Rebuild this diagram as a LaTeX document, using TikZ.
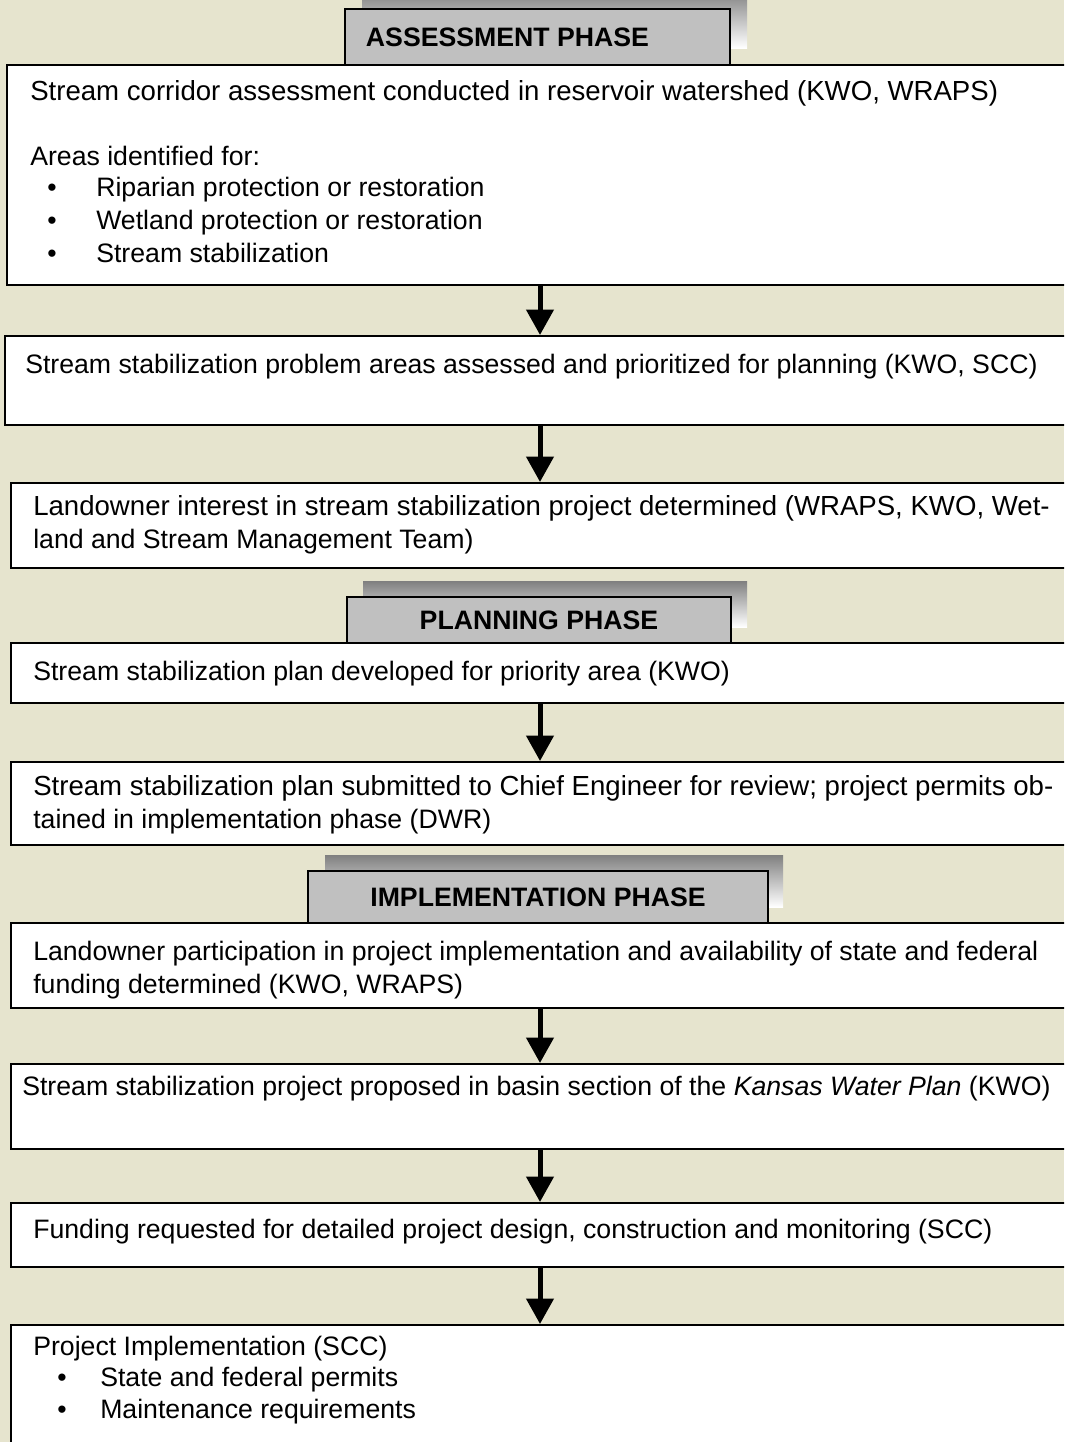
\documentclass[tikz,border=0pt]{standalone}
\usepackage{fontspec}
\setmainfont{Liberation Sans}
\usetikzlibrary{arrows.meta}
\definecolor{bg}{RGB}{230,228,206}
\definecolor{shade}{RGB}{184,184,168}
\definecolor{hdr}{RGB}{192,192,192}
\begin{document}
\begin{tikzpicture}[x=0.75pt,y=-0.75pt,
  box/.style={draw=black,line width=1.5pt,fill=white,inner sep=0pt,minimum width=#1},
  box/.default=798pt,
  hdrbox/.style={draw=black,line width=1.5pt,fill=hdr,inner sep=0pt,
    font=\fontsize{20pt}{24pt}\selectfont\bfseries},
  txt/.style={anchor=base west,inner sep=0pt,font=\fontsize{20pt}{24pt}\selectfont},
  wide/.style={font=\fontsize{20.7pt}{24pt}\selectfont},
  arr/.style={line width=3.75pt,-{Triangle[width=20pt,length=19pt]}}]
\clip (0,0) rectangle (1064,1442);
\fill[bg] (0,0) rectangle (1064,1442);
\coordinate (ax) at (540,0);

% content boxes
\node[box=801pt,minimum height=165pt]   (b1) at (541,175) {};
\node[box=802.5pt,minimum height=66.75pt] (b2) at (540,380.5) {};
\node[box,minimum height=63.75pt] (b3) at (543,525.5) {};
\node[box,minimum height=45pt]    (b4) at (543,673) {};
\node[box,minimum height=62.25pt] (b5) at (543,803.5) {};
\node[box,minimum height=63.75pt] (b6) at (543,965.5) {};
\node[box,minimum height=63.75pt] (b7) at (543,1106.5) {};
\node[box,minimum height=48pt]    (b8) at (543,1235) {};
\node[box,minimum height=101.25pt] (b9) at (543,1392.5) {};

% phase headers with shadows
\fill[shade] (362,-10) rectangle (747,48);
\node[hdrbox,minimum width=288.75pt,minimum height=42pt] (h1) at (537.5,37) {ASSESSMENT PHASE\hspace*{45pt}};
\fill[shade] (363,581) rectangle (747,627);
\node[hdrbox,minimum width=288pt,minimum height=34.5pt] (h2) at (539,620) {PLANNING PHASE};
\fill[shade] (325,855) rectangle (783,907);
\node[hdrbox,minimum width=345pt,minimum height=39pt] (h3) at (538,897) {IMPLEMENTATION PHASE};

% texts
\node[txt,wide] (t1a) at (30,100) {Stream corridor assessment conducted in reservoir watershed (KWO, WRAPS)};
\node[txt] (t1b) at (30,165) {Areas identified for:};
\node[txt] (t1c) at (47,196) {•};
\node[txt] (t1d) at (96,196) {Riparian protection or restoration};
\node[txt] (t1e) at (47,229) {•};
\node[txt] (t1f) at (96,229) {Wetland protection or restoration};
\node[txt] (t1g) at (47,262) {•};
\node[txt] (t1h) at (96,262) {Stream stabilization};

\node[txt] (t2) at (25,373) {Stream stabilization problem areas assessed and prioritized for planning (KWO, SCC)};

\node[txt,wide] (t3a) at (33,515) {Landowner interest in stream stabilization project determined (WRAPS, KWO, Wet-};
\node[txt] (t3b) at (33,548) {land and Stream Management Team)};

\node[txt] (t4) at (33,680) {Stream stabilization plan developed for priority area (KWO)};

\node[txt,wide] (t5a) at (33,795) {Stream stabilization plan submitted to Chief Engineer for review; project permits ob-};
\node[txt] (t5b) at (33,828) {tained in implementation phase (DWR)};

\node[txt] (t6a) at (33,960) {Landowner participation in project implementation and availability of state and federal};
\node[txt] (t6b) at (33,993) {funding determined (KWO, WRAPS)};

\node[txt] (t7) at (22,1095) {Stream stabilization project proposed in basin section of the \textit{Kansas Water Plan} (KWO)};

\node[txt] (t8) at (33,1238) {Funding requested for detailed project design, construction and monitoring (SCC)};

\node[txt] (t9a) at (33,1355) {Project Implementation (SCC)};
\node[txt] (t9b) at (57,1386) {•};
\node[txt] (t9c) at (100,1386) {State and federal permits};
\node[txt] (t9d) at (57,1418) {•};
\node[txt] (t9e) at (100,1418) {Maintenance requirements};

% arrows
\draw[arr] (b1.south -| ax) -- (b2.north -| ax);
\draw[arr] (b2.south -| ax) -- (b3.north -| ax);
\draw[arr] (b4.south -| ax) -- (b5.north -| ax);
\draw[arr] (b6.south -| ax) -- (b7.north -| ax);
\draw[arr] (b7.south -| ax) -- (b8.north -| ax);
\draw[arr] (b8.south -| ax) -- (b9.north -| ax);
\end{tikzpicture}
\end{document}
